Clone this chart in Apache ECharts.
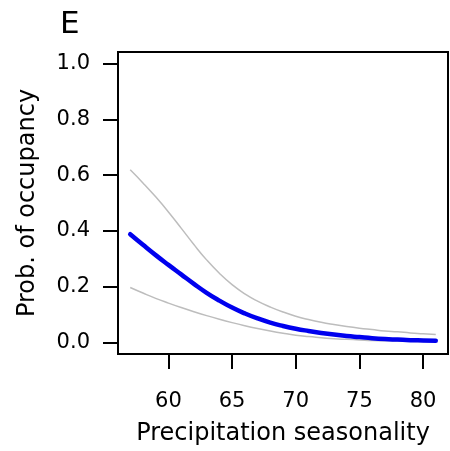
<!DOCTYPE html>
<html>
<head>
<meta charset="utf-8">
<script src="https://cdn.jsdelivr.net/npm/echarts@6/dist/echarts.min.js"></script>
<style>html,body{margin:0;padding:0;background:#fff;}#chart{width:450px;height:451px;}</style>
</head>
<body>
<div id="chart"></div>
<script>
var precip = [57,58,59,60,61,62,63,64,65,66,67,68,69,70,71,72,73,74,75,76,77,78,79,80,81];
var meanProb = [0.388,0.350,0.313,0.278,0.244,0.210,0.178,0.150,0.125,0.104,0.086,0.071,0.059,0.049,0.041,0.034,0.028,0.023,0.019,0.015,0.012,0.010,0.008,0.007,0.006];
var upperProb = [0.619,0.572,0.522,0.468,0.410,0.351,0.296,0.248,0.207,0.174,0.148,0.127,0.109,0.094,0.082,0.072,0.064,0.057,0.051,0.046,0.041,0.038,0.034,0.031,0.028];
var lowerProb = [0.197,0.177,0.158,0.141,0.125,0.110,0.096,0.083,0.071,0.060,0.050,0.041,0.033,0.026,0.021,0.017,0.013,0.011,0.009,0.007,0.006,0.005,0.004,0.003,0.003];
var xTicks = [60,65,70,75,80];
var yTicks = [0,0.2,0.4,0.6,0.8,1.0];
var panelLabel = 'E';
var xTitle = 'Precipitation seasonality';
var yTitle = 'Prob. of occupancy';

function pairs(ys){ return precip.map(function(x,i){ return [x, ys[i]]; }); }

var FONT = 'DejaVu Sans';
var chart = echarts.init(document.getElementById('chart'), null, {renderer:'canvas'});
chart.setOption({
  animation: false,
  backgroundColor: '#ffffff',
  title: {
    text: panelLabel, left: 55, top: 4,
    textStyle: {fontFamily: FONT, fontSize: 31, fontWeight: 'normal', color: '#000'}
  },
  grid: {left: 118, top: 52, right: 2, bottom: 96, show: true, borderColor: '#000', borderWidth: 2, backgroundColor: 'transparent'},
  xAxis: {
    type: 'value', min: 56.04, max: 81.96,
    name: xTitle, nameLocation: 'middle', nameGap: 68,
    nameTextStyle: {fontFamily: FONT, fontSize: 24, color: '#000'},
    axisLine: {show: true, onZero: false, lineStyle: {color: '#000', width: 2}},
    axisTick: {show: true, length: 15, customValues: xTicks, lineStyle: {color: '#000', width: 2}},
    axisLabel: {customValues: xTicks, margin: 37, fontFamily: FONT, fontSize: 21, color: '#000'},
    splitLine: {show: false}
  },
  yAxis: {
    type: 'value', min: -0.0416, max: 1.0416,
    name: yTitle, nameLocation: 'middle', nameGap: 78, nameRotate: 90,
    nameTextStyle: {fontFamily: FONT, fontSize: 24, color: '#000'},
    axisLine: {show: true, onZero: false, lineStyle: {color: '#000', width: 2}},
    axisTick: {show: true, length: 15, customValues: yTicks, lineStyle: {color: '#000', width: 2}},
    axisLabel: {customValues: yTicks, margin: 28, fontFamily: FONT, fontSize: 21, color: '#000',
      formatter: function(v){ return v.toFixed(1); }},
    splitLine: {show: false}
  },
  series: [
    {type: 'line', data: pairs(upperProb), smooth: true, symbol: 'none', lineStyle: {color: '#bdbdbd', width: 1.5}},
    {type: 'line', data: pairs(lowerProb), smooth: true, symbol: 'none', lineStyle: {color: '#bdbdbd', width: 1.5}},
    {type: 'line', data: pairs(meanProb), smooth: true, symbol: 'none', lineStyle: {color: '#0000ee', width: 4.5, cap: 'round'}}
  ]
});
</script>
</body>
</html>
